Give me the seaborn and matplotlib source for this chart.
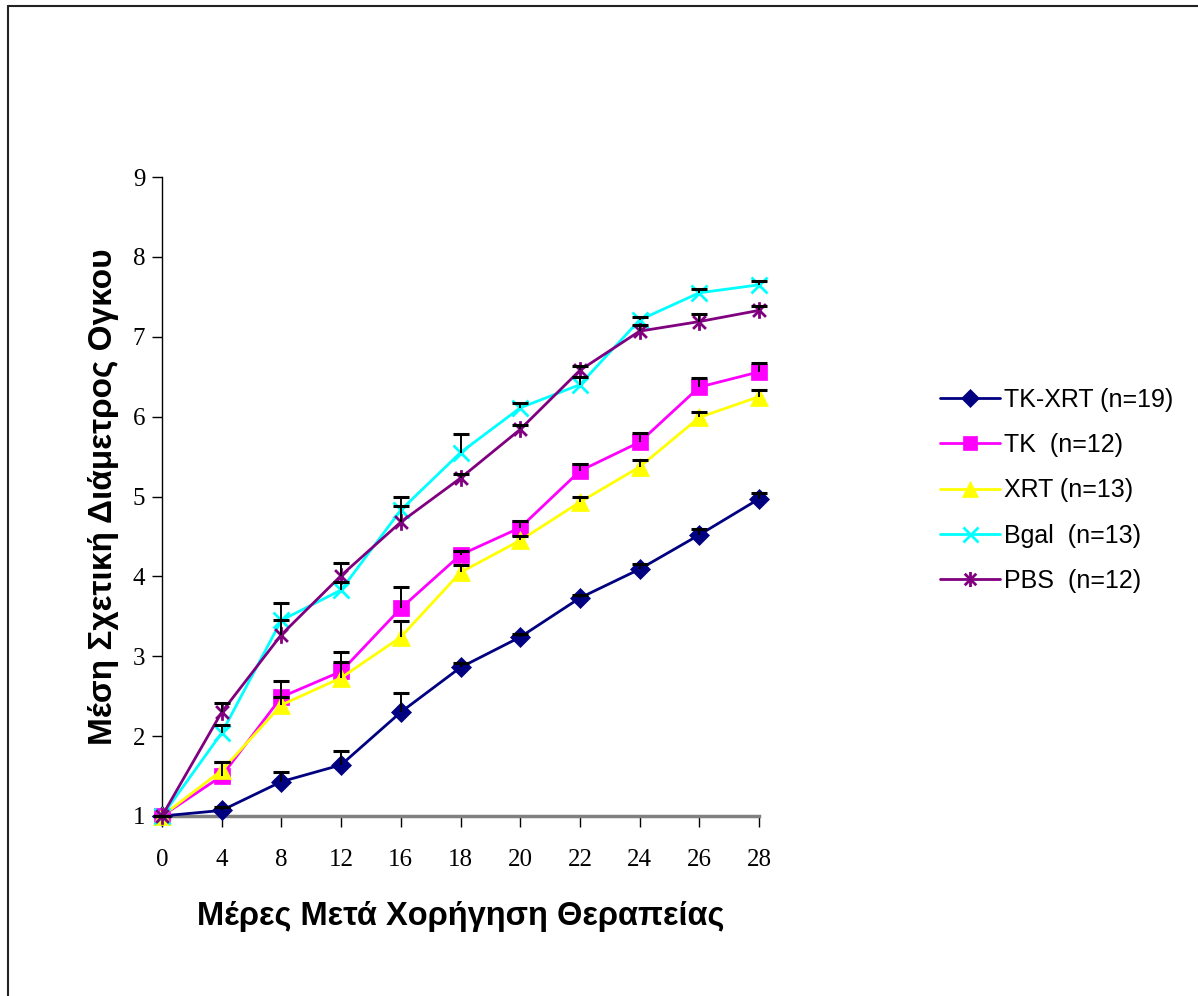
import numpy as np
import pandas as pd
import matplotlib
matplotlib.use("Agg")
import matplotlib.pyplot as plt
from matplotlib.path import Path
from matplotlib.lines import Line2D
import seaborn as sns

# Days after treatment (plotted as equally spaced categories)
days = [0, 4, 8, 12, 16, 18, 20, 22, 24, 26, 28]

# Mean relative tumour diameter per group
tk_xrt = [1.00, 1.07, 1.43, 1.64, 2.30, 2.86, 3.24, 3.73, 4.09, 4.52, 4.97]
tk = [1.00, 1.50, 2.49, 2.81, 3.60, 4.27, 4.61, 5.32, 5.68, 6.37, 6.56]
xrt = [1.00, 1.57, 2.39, 2.73, 3.24, 4.05, 4.45, 4.93, 5.37, 5.99, 6.25]
bgal = [1.00, 2.04, 3.45, 3.83, 4.83, 5.55, 6.11, 6.40, 7.21, 7.55, 7.65]
pbs = [1.00, 2.30, 3.27, 4.01, 4.68, 5.23, 5.84, 6.58, 7.07, 7.19, 7.33]

# Upper error (SEM) per group
tk_xrt_err = [0, 0.04, 0.12, 0.18, 0.24, 0.05, 0.04, 0.04, 0.07, 0.07, 0.08]
tk_err = [0, 0.18, 0.20, 0.24, 0.27, 0.05, 0.08, 0.09, 0.12, 0.11, 0.11]
xrt_err = [0, 0.10, 0.10, 0.20, 0.20, 0.09, 0.05, 0.07, 0.09, 0.07, 0.08]
bgal_err = [0, 0.10, 0.22, 0.10, 0.17, 0.23, 0.06, 0.09, 0.04, 0.05, 0.05]
pbs_err = [0, 0.11, 0.19, 0.16, 0.20, 0.05, 0.06, 0.05, 0.08, 0.09, 0.05]

labels = ["TK-XRT (n=19)", "TK  (n=12)", "XRT (n=13)", "Bgal  (n=13)", "PBS  (n=12)"]

sns.set_theme(style="white")
plt.rcParams["font.family"] = ["Liberation Sans", "DejaVu Sans"]
plt.rcParams.update({"text.color": "black", "axes.labelcolor": "black",
                     "xtick.color": "black", "ytick.color": "black"})

# Asterisk marker: an X crossed by a vertical bar
star_path = Path(
    [(-1, -1), (1, 1), (-1, 1), (1, -1), (0, -1.3), (0, 1.3)],
    [Path.MOVETO, Path.LINETO, Path.MOVETO, Path.LINETO, Path.MOVETO, Path.LINETO],
)

series = [
    (labels[0], tk_xrt, tk_xrt_err, "#000080", "D", 10, True),
    (labels[1], tk, tk_err, "#FF00FF", "s", 11, True),
    (labels[2], xrt, xrt_err, "#FFFF00", "^", 13, True),
    (labels[3], bgal, bgal_err, "#00FFFF", "x", 12, False),
    (labels[4], pbs, pbs_err, "#800080", star_path, 12, False),
]

pos = np.arange(len(days))

fig = plt.figure(figsize=(11.98, 9.96), dpi=100)
ax = fig.add_axes([162 / 1198, 1 - 816 / 996, (759 - 162) / 1198, (816 - 177) / 996])

handles = []
for name, vals, err, col, mk, ms, filled in series:
    d = pd.DataFrame({"pos": pos, "value": vals})
    mew = 0.5 if filled else 2.0
    sns.lineplot(data=d, x="pos", y="value", color=col, marker=mk, markersize=ms,
                 markerfacecolor=col, markeredgecolor=col, markeredgewidth=mew,
                 linewidth=2.0, ax=ax, clip_on=False, zorder=3)
    # Upward-only error bars: keep only the upper cap
    _, caps, _ = ax.errorbar(pos, vals, yerr=[np.zeros(len(vals)), err],
                             fmt="none", ecolor="black", elinewidth=1.4,
                             capsize=5.5, capthick=2.2, zorder=4, clip_on=False)
    caps[0].remove()
    handles.append(Line2D([], [], color=col, marker=mk, markersize=ms * 0.9,
                          markerfacecolor=col, markeredgecolor=col,
                          markeredgewidth=mew, linewidth=2.0))

ax.set_xlim(0, len(days) - 1)
ax.set_ylim(1, 9)
ax.set_xticks(pos)
ax.set_xticklabels([str(d) for d in days])
ax.set_yticks(range(1, 10))

for lbl in ax.get_xticklabels() + ax.get_yticklabels():
    lbl.set_fontfamily("Liberation Serif")
    lbl.set_fontsize(18)
    lbl.set_color("black")

ax.tick_params(axis="x", direction="out", length=8, width=1, color="black", pad=16,
               bottom=True)
ax.tick_params(axis="y", direction="out", length=7, width=1, color="black", pad=5,
               left=True)

for side in ("top", "right"):
    ax.spines[side].set_visible(False)
ax.spines["left"].set_color("black")
ax.spines["left"].set_linewidth(1.0)
ax.spines["bottom"].set_color("#808080")
ax.spines["bottom"].set_linewidth(2.5)

ax.set_xlabel("Μέρες Μετά Χορήγηση Θεραπείας", fontsize=23.5, fontweight="bold",
              family="Liberation Sans", labelpad=21, color="black")
ax.set_ylabel("Μέση Σχετική Διάμετρος Ογκου", fontsize=24, fontweight="bold",
              family="Liberation Sans", labelpad=10, color="black")

leg = fig.legend(handles, labels, loc="upper left",
                 bbox_to_anchor=(940 / 1198, 1 - 388 / 996), frameon=False,
                 prop={"family": "Liberation Sans", "size": 18},
                 handlelength=2.4, handletextpad=0.15, labelspacing=0.85,
                 borderpad=0, borderaxespad=0)
for t in leg.get_texts():
    t.set_color("black")

# Outer frame lines (top and left)
fig.add_artist(Line2D([8 / 1198, 1.0], [1 - 6 / 996, 1 - 6 / 996],
                      transform=fig.transFigure, color="#222222", linewidth=1.5))
fig.add_artist(Line2D([8 / 1198, 8 / 1198], [0.0, 1 - 6 / 996],
                      transform=fig.transFigure, color="#222222", linewidth=1.5))

fig.savefig("out.png", dpi=100)
